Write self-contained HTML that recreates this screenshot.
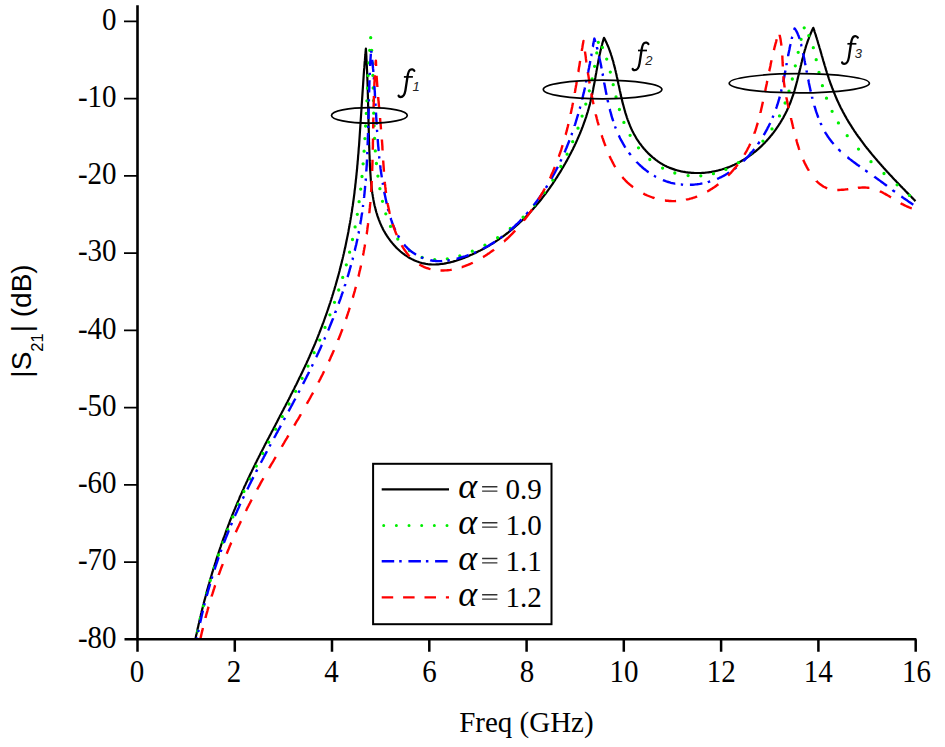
<!DOCTYPE html><html><head><meta charset="utf-8"><style>html,body{margin:0;padding:0;background:#fff;}svg{display:block;}text{font-family:"Liberation Serif",serif;}.s{font-family:"Liberation Sans",sans-serif;}</style></head><body>
<svg width="945" height="747" viewBox="0 0 945 747">
<rect width="945" height="747" fill="#fff"/>
<defs><clipPath id="plotclip"><rect x="137" y="0" width="800" height="639.3"/></clipPath></defs>
<g clip-path="url(#plotclip)">
<path d="M195.4,639.2 195.7,637.7 196.0,636.3 196.3,634.8 196.7,633.3 197.0,631.8 197.3,630.4 197.6,628.9 198.0,627.4 198.3,626.0 198.6,624.5 199.0,623.0 199.3,621.6 199.6,620.1 200.0,618.6 200.3,617.2 200.7,615.7 201.0,614.2 201.4,612.8 201.7,611.3 202.1,609.8 202.5,608.4 202.8,606.9 203.2,605.5 203.6,604.0 203.9,602.5 204.3,601.1 204.7,599.6 205.1,598.2 205.5,596.7 205.9,595.3 206.2,593.8 206.6,592.4 207.0,590.9 207.4,589.4 207.8,588.0 208.2,586.5 208.6,585.1 209.1,583.6 209.5,582.2 209.9,580.8 210.3,579.3 210.7,577.9 211.2,576.4 211.6,575.0 212.0,573.5 212.4,572.1 212.9,570.6 213.3,569.2 213.8,567.8 214.2,566.3 214.7,564.9 215.1,563.5 215.6,562.0 216.0,560.6 216.5,559.2 216.9,557.7 217.4,556.3 217.9,554.9 218.4,553.4 218.8,552.0 219.3,550.6 219.8,549.2 220.3,547.7 220.8,546.3 221.2,544.9 221.7,543.5 222.2,542.0 222.7,540.6 223.2,539.2 223.7,537.8 224.3,536.4 224.8,535.0 225.3,533.6 225.8,532.1 226.3,530.7 226.8,529.3 227.4,527.9 227.9,526.5 228.4,525.1 229.0,523.7 229.5,522.3 230.0,520.9 230.6,519.5 231.1,518.1 231.7,516.7 232.2,515.3 232.8,513.9 233.4,512.5 233.9,511.1 234.5,509.7 235.1,508.4 235.6,507.0 236.2,505.6 236.8,504.2 237.4,502.8 238.0,501.4 238.6,500.1 239.2,498.7 239.7,497.3 240.3,495.9 241.0,494.5 241.6,493.2 242.2,491.8 242.8,490.4 243.4,489.1 244.0,487.7 244.6,486.3 245.3,485.0 245.9,483.6 246.5,482.2 247.2,480.9 247.8,479.5 248.4,478.2 249.1,476.8 249.7,475.5 250.4,474.1 251.0,472.8 251.7,471.4 252.3,470.1 253.0,468.7 253.6,467.4 254.3,466.0 255.0,464.7 255.6,463.3 256.3,462.0 257.0,460.6 257.6,459.3 258.3,458.0 259.0,456.6 259.7,455.3 260.3,453.9 261.0,452.6 261.7,451.3 262.4,449.9 263.1,448.6 263.8,447.2 264.4,445.9 265.1,444.6 265.8,443.2 266.5,441.9 267.2,440.6 267.9,439.2 268.6,437.9 269.3,436.6 270.0,435.2 270.7,433.9 271.4,432.6 272.1,431.2 272.8,429.9 273.5,428.6 274.2,427.2 274.9,425.9 275.6,424.6 276.3,423.2 277.0,421.9 277.7,420.6 278.3,419.2 279.0,417.9 279.7,416.6 280.4,415.2 281.1,413.9 281.8,412.6 282.5,411.2 283.2,409.9 283.9,408.5 284.6,407.2 285.3,405.9 286.0,404.5 286.7,403.2 287.4,401.9 288.1,400.5 288.8,399.2 289.5,397.8 290.2,396.5 290.8,395.1 291.5,393.8 292.2,392.5 292.9,391.1 293.6,389.8 294.3,388.4 294.9,387.1 295.6,385.7 296.3,384.4 297.0,383.0 297.6,381.7 298.3,380.3 298.9,379.0 299.6,377.6 300.3,376.3 300.9,374.9 301.6,373.6 302.2,372.2 302.9,370.8 303.5,369.5 304.2,368.1 304.8,366.8 305.4,365.4 306.1,364.0 306.7,362.7 307.3,361.3 308.0,359.9 308.6,358.5 309.2,357.2 309.8,355.8 310.4,354.4 311.0,353.0 311.6,351.7 312.2,350.3 312.8,348.9 313.4,347.5 314.0,346.1 314.6,344.7 315.2,343.4 315.7,342.0 316.3,340.6 316.9,339.2 317.4,337.8 318.0,336.4 318.5,335.0 319.1,333.6 319.6,332.2 320.2,330.8 320.7,329.4 321.3,328.0 321.8,326.6 322.3,325.2 322.8,323.8 323.4,322.4 323.9,321.0 324.4,319.5 324.9,318.1 325.4,316.7 325.9,315.3 326.4,313.9 326.9,312.5 327.4,311.0 327.9,309.6 328.4,308.2 328.8,306.8 329.3,305.4 329.8,303.9 330.3,302.5 330.7,301.1 331.2,299.6 331.6,298.2 332.1,296.8 332.5,295.3 333.0,293.9 333.4,292.5 333.8,291.0 334.3,289.6 334.7,288.2 335.1,286.7 335.6,285.3 336.0,283.8 336.4,282.4 336.8,280.9 337.2,279.5 337.6,278.1 338.0,276.6 338.4,275.2 338.8,273.7 339.2,272.3 339.6,270.8 339.9,269.3 340.3,267.9 340.7,266.4 341.0,265.0 341.4,263.5 341.8,262.1 342.1,260.6 342.5,259.1 342.8,257.7 343.2,256.2 343.5,254.8 343.9,253.3 344.2,251.8 344.5,250.4 344.8,248.9 345.2,247.4 345.5,246.0 345.8,244.5 346.1,243.0 346.4,241.5 346.7,240.1 347.0,238.6 347.3,237.1 347.6,235.7 347.9,234.2 348.2,232.7 348.5,231.2 348.7,229.7 349.0,228.3 349.3,226.8 349.5,225.3 349.8,223.8 350.1,222.4 350.3,220.9 350.6,219.4 350.8,217.9 351.1,216.4 351.3,214.9 351.5,213.4 351.8,212.0 352.0,210.5 352.2,209.0 352.4,207.5 352.7,206.0 352.9,204.5 353.1,203.0 353.3,201.5 353.5,200.1 353.7,198.6 353.9,197.1 354.1,195.6 354.3,194.1 354.5,192.6 354.6,191.1 354.8,189.6 355.0,188.1 355.2,186.6 355.3,185.1 355.5,183.6 355.7,182.1 355.8,180.6 356.0,179.1 356.2,177.6 356.3,176.1 356.5,174.6 356.6,173.1 356.8,171.6 356.9,170.1 357.1,168.6 357.2,167.1 357.3,165.6 357.5,164.1 357.6,162.6 357.7,161.1 357.9,159.6 358.0,158.1 358.1,156.6 358.2,155.1 358.4,153.6 358.5,152.1 358.6,150.6 358.7,149.1 358.8,147.6 359.0,146.1 359.1,144.6 359.2,143.1 359.3,141.6 359.4,140.1 359.5,138.6 359.6,137.1 359.7,135.6 359.8,134.0 359.9,132.5 360.0,131.0 360.1,129.5 360.2,128.0 360.3,126.5 360.4,125.0 360.5,123.5 360.6,122.0 360.7,120.5 360.8,119.0 360.9,117.5 361.0,116.0 361.1,114.5 361.2,113.0 361.3,111.5 361.4,110.0 361.5,108.5 361.6,107.0 361.7,105.4 361.8,103.9 361.9,102.4 362.0,100.9 362.1,99.4 362.2,97.9 362.3,96.4 362.4,94.9 362.5,93.4 362.6,91.9 362.7,90.4 362.8,88.9 362.9,87.4 363.0,85.9 363.1,84.4 363.2,82.9 363.3,81.4 363.4,79.9 363.5,78.4 363.6,76.9 363.7,75.4 363.8,73.9 363.9,72.4 364.0,70.9 364.1,69.4 364.3,67.9 364.4,66.4 364.5,64.9 364.6,63.4 364.7,61.9 364.9,60.4 365.0,58.9 365.1,57.5 365.2,56.0 365.4,54.5 365.5,53.0 365.6,51.5 365.8,50.0 365.9,48.5 366.0,50.1 366.1,51.6 366.2,53.1 366.3,54.7 366.4,56.2 366.4,57.8 366.5,59.3 366.6,60.8 366.7,62.3 366.7,63.9 366.8,65.4 366.9,66.9 366.9,68.4 367.0,69.9 367.1,71.4 367.1,72.9 367.2,74.5 367.3,76.0 367.3,77.5 367.4,79.0 367.4,80.4 367.5,81.9 367.5,83.4 367.6,84.9 367.6,86.4 367.7,87.9 367.7,89.4 367.8,90.9 367.8,92.4 367.8,93.8 367.9,95.3 367.9,96.8 368.0,98.3 368.0,99.8 368.0,101.2 368.1,102.7 368.1,104.2 368.1,105.7 368.2,107.1 368.2,108.6 368.3,110.1 368.3,111.6 368.3,113.0 368.4,114.5 368.4,116.0 368.4,117.5 368.5,119.0 368.5,120.4 368.5,121.9 368.6,123.4 368.6,124.9 368.6,126.4 368.7,127.8 368.7,129.3 368.8,130.8 368.8,132.3 368.8,133.8 368.9,135.3 368.9,136.8 369.0,138.3 369.0,139.7 369.0,141.2 369.1,142.7 369.1,144.2 369.2,145.7 369.2,147.2 369.3,148.8 369.3,150.3 369.4,151.8 369.4,153.3 369.5,154.8 369.6,156.3 369.6,157.8 369.7,159.4 369.7,160.9 369.8,162.4 369.9,164.0 369.9,165.5 370.0,167.0 370.1,168.6 370.2,170.1 370.3,171.7 370.4,173.2 370.5,174.7 370.6,176.3 370.7,177.8 370.8,179.4 370.9,180.9 371.1,182.5 371.2,184.0 371.4,185.5 371.6,187.1 371.7,188.6 371.9,190.1 372.1,191.6 372.3,193.2 372.6,194.7 372.8,196.2 373.1,197.7 373.3,199.2 373.6,200.7 373.9,202.2 374.2,203.7 374.5,205.2 374.9,206.7 375.3,208.1 375.6,209.6 376.0,211.0 376.4,212.5 376.9,213.9 377.3,215.4 377.8,216.8 378.3,218.2 378.8,219.6 379.4,221.0 379.9,222.4 380.5,223.8 381.1,225.1 381.7,226.5 382.4,227.8 383.0,229.2 383.7,230.5 384.5,231.8 385.2,233.1 386.0,234.4 386.8,235.7 387.6,236.9 388.5,238.2 389.4,239.4 390.3,240.6 391.2,241.8 392.1,242.9 393.1,244.1 394.1,245.2 395.1,246.3 396.1,247.4 397.2,248.5 398.3,249.5 399.4,250.5 400.5,251.5 401.6,252.4 402.8,253.3 404.0,254.2 405.1,255.1 406.4,255.9 407.6,256.7 408.8,257.5 410.1,258.2 411.4,258.9 412.7,259.6 414.0,260.2 415.3,260.8 416.6,261.3 418.0,261.8 419.3,262.3 420.7,262.7 422.1,263.1 423.5,263.4 424.9,263.7 426.3,264.0 427.8,264.2 429.2,264.3 430.7,264.4 432.1,264.5 433.6,264.5 435.1,264.5 436.6,264.4 438.1,264.3 439.6,264.2 441.1,264.0 442.6,263.8 444.1,263.6 445.6,263.3 447.1,263.0 448.6,262.7 450.1,262.4 451.6,262.0 453.1,261.6 454.6,261.1 456.1,260.7 457.5,260.2 459.0,259.7 460.5,259.2 462.0,258.7 463.4,258.1 464.9,257.6 466.3,257.0 467.8,256.4 469.2,255.8 470.6,255.1 472.1,254.5 473.5,253.8 474.9,253.2 476.3,252.5 477.6,251.8 479.0,251.1 480.4,250.4 481.7,249.7 483.1,249.0 484.4,248.2 485.7,247.5 487.1,246.7 488.4,246.0 489.7,245.2 491.0,244.4 492.2,243.7 493.5,242.9 494.8,242.1 496.0,241.2 497.3,240.4 498.5,239.6 499.7,238.7 500.9,237.9 502.2,237.0 503.4,236.2 504.5,235.3 505.7,234.4 506.9,233.5 508.1,232.6 509.2,231.7 510.4,230.8 511.5,229.8 512.7,228.9 513.8,227.9 514.9,227.0 516.0,226.0 517.2,225.0 518.3,224.0 519.3,223.0 520.4,222.0 521.5,221.0 522.6,220.0 523.6,218.9 524.7,217.9 525.7,216.8 526.8,215.8 527.8,214.7 528.9,213.6 529.9,212.5 530.9,211.4 531.9,210.3 532.9,209.2 533.9,208.1 534.9,206.9 535.9,205.8 536.8,204.6 537.8,203.5 538.8,202.3 539.7,201.2 540.7,200.0 541.6,198.8 542.5,197.6 543.5,196.4 544.4,195.2 545.3,194.0 546.2,192.8 547.1,191.6 548.0,190.3 548.9,189.1 549.8,187.9 550.6,186.6 551.5,185.4 552.4,184.1 553.2,182.8 554.0,181.6 554.9,180.3 555.7,179.0 556.5,177.8 557.4,176.5 558.2,175.2 559.0,173.9 559.8,172.6 560.6,171.3 561.4,170.0 562.1,168.7 562.9,167.4 563.7,166.1 564.4,164.8 565.2,163.5 565.9,162.2 566.7,160.9 567.4,159.5 568.1,158.2 568.8,156.9 569.5,155.6 570.2,154.2 570.9,152.9 571.6,151.6 572.3,150.2 573.0,148.9 573.6,147.5 574.3,146.2 574.9,144.8 575.6,143.5 576.2,142.1 576.8,140.7 577.4,139.4 578.0,138.0 578.6,136.6 579.2,135.2 579.8,133.9 580.4,132.5 580.9,131.1 581.5,129.7 582.0,128.3 582.6,126.9 583.1,125.5 583.6,124.1 584.1,122.7 584.6,121.3 585.1,119.9 585.6,118.5 586.1,117.1 586.5,115.6 587.0,114.2 587.4,112.8 587.9,111.3 588.3,109.9 588.7,108.5 589.1,107.0 589.5,105.6 589.9,104.1 590.2,102.7 590.6,101.2 590.9,99.7 591.3,98.3 591.6,96.8 591.9,95.3 592.3,93.9 592.6,92.4 592.9,90.9 593.2,89.4 593.4,87.9 593.7,86.5 594.0,85.0 594.3,83.5 594.6,82.0 594.8,80.5 595.1,79.0 595.4,77.5 595.6,76.0 595.9,74.5 596.2,73.0 596.4,71.6 596.7,70.1 597.0,68.6 597.2,67.1 597.5,65.6 597.8,64.1 598.1,62.6 598.3,61.1 598.6,59.7 598.9,58.2 599.2,56.7 599.5,55.2 599.9,53.8 600.2,52.3 600.5,50.8 600.9,49.4 601.2,47.9 601.6,46.4 602.0,45.0 602.3,43.5 602.7,42.1 603.1,40.7 603.6,39.2 604.0,37.8 604.7,39.1 605.3,40.3 605.9,41.6 606.6,42.9 607.1,44.2 607.7,45.5 608.3,46.9 608.8,48.2 609.3,49.6 609.8,51.0 610.3,52.3 610.8,53.7 611.2,55.1 611.7,56.5 612.1,57.9 612.5,59.4 613.0,60.8 613.4,62.2 613.7,63.7 614.1,65.1 614.5,66.6 614.9,68.1 615.2,69.5 615.6,71.0 615.9,72.5 616.3,74.0 616.6,75.5 616.9,77.0 617.3,78.5 617.6,80.0 617.9,81.5 618.2,83.0 618.5,84.5 618.9,86.0 619.2,87.5 619.5,89.0 619.8,90.5 620.2,92.0 620.5,93.5 620.8,95.1 621.2,96.6 621.5,98.1 621.9,99.6 622.2,101.1 622.6,102.6 623.0,104.1 623.4,105.5 623.8,107.0 624.2,108.5 624.6,110.0 625.0,111.4 625.4,112.9 625.9,114.4 626.4,115.8 626.8,117.3 627.3,118.7 627.8,120.1 628.4,121.5 628.9,123.0 629.5,124.4 630.0,125.7 630.6,127.1 631.2,128.5 631.9,129.9 632.5,131.2 633.2,132.6 633.9,133.9 634.6,135.2 635.4,136.5 636.1,137.8 636.9,139.1 637.7,140.3 638.6,141.6 639.4,142.8 640.3,144.0 641.2,145.2 642.1,146.4 643.0,147.5 644.0,148.7 645.0,149.8 646.0,150.9 647.0,152.0 648.0,153.1 649.1,154.1 650.2,155.1 651.3,156.1 652.4,157.1 653.5,158.0 654.7,158.9 655.8,159.8 657.0,160.7 658.2,161.6 659.4,162.4 660.7,163.2 661.9,163.9 663.2,164.7 664.5,165.4 665.8,166.0 667.1,166.7 668.5,167.3 669.8,167.9 671.2,168.4 672.6,168.9 674.0,169.4 675.4,169.9 676.9,170.3 678.3,170.7 679.7,171.0 681.2,171.4 682.7,171.7 684.2,171.9 685.6,172.2 687.1,172.4 688.6,172.6 690.1,172.7 691.7,172.8 693.2,172.9 694.7,173.0 696.2,173.0 697.7,173.0 699.3,173.0 700.8,173.0 702.3,172.9 703.8,172.8 705.4,172.7 706.9,172.5 708.4,172.3 709.9,172.1 711.4,171.9 712.9,171.6 714.4,171.3 715.9,171.0 717.4,170.7 718.8,170.3 720.3,169.9 721.7,169.5 723.2,169.0 724.6,168.6 726.0,168.1 727.5,167.6 728.9,167.1 730.3,166.5 731.6,165.9 733.0,165.3 734.4,164.7 735.7,164.1 737.1,163.4 738.4,162.7 739.7,162.0 741.0,161.3 742.3,160.5 743.6,159.8 744.9,159.0 746.1,158.2 747.4,157.4 748.6,156.5 749.8,155.7 751.0,154.8 752.2,153.9 753.4,153.0 754.6,152.0 755.8,151.1 756.9,150.1 758.1,149.1 759.2,148.1 760.3,147.1 761.4,146.1 762.5,145.0 763.5,144.0 764.6,142.9 765.6,141.8 766.7,140.7 767.7,139.6 768.7,138.4 769.7,137.3 770.6,136.1 771.6,135.0 772.5,133.8 773.5,132.6 774.4,131.4 775.3,130.2 776.2,128.9 777.0,127.7 777.9,126.4 778.7,125.2 779.5,123.9 780.4,122.6 781.1,121.3 781.9,120.0 782.7,118.7 783.4,117.4 784.1,116.0 784.9,114.7 785.5,113.4 786.2,112.0 786.9,110.7 787.5,109.3 788.1,107.9 788.8,106.5 789.3,105.1 789.9,103.7 790.5,102.3 791.0,100.9 791.5,99.5 792.0,98.1 792.5,96.7 793.0,95.3 793.5,93.8 793.9,92.4 794.4,91.0 794.8,89.5 795.2,88.1 795.6,86.6 796.0,85.2 796.4,83.7 796.8,82.3 797.2,80.8 797.5,79.4 797.9,77.9 798.2,76.5 798.6,75.0 799.0,73.5 799.3,72.1 799.7,70.6 800.0,69.1 800.4,67.7 800.7,66.2 801.1,64.8 801.4,63.3 801.8,61.8 802.1,60.4 802.5,58.9 802.9,57.5 803.3,56.0 803.6,54.6 804.0,53.1 804.4,51.7 804.8,50.2 805.3,48.8 805.7,47.4 806.1,45.9 806.6,44.5 807.1,43.1 807.6,41.7 808.0,40.3 808.6,38.8 809.1,37.4 809.6,36.0 810.2,34.7 810.8,33.3 811.4,31.9 812.0,30.5 812.6,29.2 813.3,27.8 813.8,29.2 814.3,30.6 814.7,32.1 815.2,33.5 815.7,34.9 816.1,36.4 816.6,37.8 817.0,39.3 817.5,40.7 817.9,42.2 818.3,43.6 818.8,45.1 819.2,46.5 819.6,48.0 820.1,49.5 820.5,50.9 820.9,52.4 821.3,53.8 821.7,55.3 822.2,56.8 822.6,58.2 823.0,59.7 823.4,61.1 823.9,62.6 824.3,64.1 824.7,65.5 825.2,67.0 825.6,68.4 826.0,69.9 826.5,71.3 826.9,72.8 827.4,74.2 827.9,75.7 828.4,77.1 828.8,78.5 829.3,80.0 829.8,81.4 830.3,82.8 830.8,84.3 831.4,85.7 831.9,87.1 832.4,88.5 833.0,89.9 833.5,91.3 834.1,92.7 834.7,94.1 835.2,95.5 835.8,96.9 836.4,98.3 837.0,99.7 837.6,101.1 838.3,102.4 838.9,103.8 839.6,105.2 840.2,106.5 840.9,107.9 841.6,109.2 842.3,110.5 843.0,111.9 843.7,113.2 844.4,114.5 845.1,115.9 845.9,117.2 846.6,118.5 847.4,119.8 848.1,121.1 848.9,122.4 849.7,123.7 850.5,124.9 851.3,126.2 852.1,127.5 853.0,128.8 853.8,130.0 854.6,131.3 855.5,132.5 856.3,133.8 857.2,135.0 858.1,136.3 859.0,137.5 859.9,138.7 860.8,140.0 861.7,141.2 862.6,142.4 863.5,143.6 864.4,144.8 865.3,146.1 866.3,147.3 867.2,148.5 868.2,149.6 869.1,150.8 870.1,152.0 871.1,153.2 872.0,154.4 873.0,155.6 874.0,156.7 875.0,157.9 876.0,159.1 877.0,160.2 878.0,161.4 879.0,162.5 880.0,163.7 881.0,164.8 882.0,166.0 883.0,167.1 884.0,168.3 885.1,169.4 886.1,170.5 887.1,171.7 888.2,172.8 889.2,173.9 890.2,175.0 891.3,176.1 892.3,177.2 893.4,178.4 894.4,179.5 895.5,180.6 896.5,181.7 897.6,182.8 898.6,183.9 899.7,185.0 900.7,186.1 901.8,187.1 902.8,188.2 903.9,189.3 905.0,190.4 906.0,191.5 907.1,192.6 908.1,193.6 909.2,194.7 910.2,195.8 911.3,196.8 912.3,197.9 913.4,199.0 914.4,200.0 915.5,201.1" stroke="#000" stroke-width="2.2" fill="none" stroke-linejoin="round"/>
<path d="M197.6,631.2h0.01M200.3,618.5h0.01M203.4,605.8h0.01M206.7,593.1h0.01M210.3,580.4h0.01M214.2,567.7h0.01M218.4,555.0h0.01M222.9,542.3h0.01M227.7,529.6h0.01M232.8,516.9h0.01M238.2,504.2h0.01M243.9,491.5h0.01M250.0,478.8h0.01M256.3,466.1h0.01M262.8,453.4h0.01M268.7,442.2h0.01M275.6,429.2h0.01M282.3,416.6h0.01M289.0,404.0h0.01M295.6,391.3h0.01M302.1,378.3h0.01M308.0,366.1h0.01M314.1,352.7h0.01M319.7,340.1h0.01M325.0,327.4h0.01M329.9,314.8h0.01M334.5,302.3h0.01M338.7,290.0h0.01M342.7,277.4h0.01M346.3,264.8h0.01M349.6,252.2h0.01M352.5,239.5h0.01M355.1,226.9h0.01M357.3,214.3h0.01M359.1,201.7h0.01M360.7,189.1h0.01M362.0,176.5h0.01M363.1,163.8h0.01M364.1,151.2h0.01M364.9,138.6h0.01M365.6,126.0h0.01M366.3,113.4h0.01M366.9,100.8h0.01M367.5,88.2h0.01M368.1,75.5h0.01M368.9,62.9h0.01M369.7,50.3h0.01M370.7,37.7h0.01M371.7,50.3h0.01M372.4,62.9h0.01M372.9,75.4h0.01M373.2,88.0h0.01M373.5,100.6h0.01M373.7,113.2h0.01M374.1,125.8h0.01M374.6,138.4h0.01M375.3,150.9h0.01M376.4,163.5h0.01M377.9,176.1h0.01M379.9,188.7h0.01M382.5,201.3h0.01M385.8,213.8h0.01M390.5,226.4h0.01M397.8,239.0h0.01M409.5,250.7h0.01M422.1,257.4h0.01M434.7,259.6h0.01M447.3,258.8h0.01M459.8,255.8h0.01M472.3,251.2h0.01M484.9,245.2h0.01M497.6,237.7h0.01M510.3,228.5h0.01M523.1,217.2h0.01M534.6,205.0h0.01M544.3,192.7h0.01M552.8,180.2h0.01M560.8,166.5h0.01M567.1,154.2h0.01M572.7,141.7h0.01M578.0,128.2h0.01M582.1,116.1h0.01M585.8,104.1h0.01M589.3,90.8h0.01M592.1,78.9h0.01M594.6,66.3h0.01M596.8,52.9h0.01M598.3,42.3h0.01M602.4,47.4h0.01M606.7,59.1h0.01M610.3,72.1h0.01M613.2,84.7h0.01M616.0,96.9h0.01M619.4,109.5h0.01M623.9,122.4h0.01M630.1,135.3h0.01M638.5,147.8h0.01M649.8,159.5h0.01M662.6,168.1h0.01M674.8,173.0h0.01M688.1,175.6h0.01M700.8,175.8h0.01M713.4,173.7h0.01M725.9,169.4h0.01M738.4,162.7h0.01M750.9,153.2h0.01M762.9,141.1h0.01M772.0,128.9h0.01M779.5,115.9h0.01M785.1,103.0h0.01M789.0,91.1h0.01M792.3,79.0h0.01M795.3,65.8h0.01M798.2,52.3h0.01M801.1,39.3h0.01M804.2,27.8h0.01M808.8,35.7h0.01M813.3,47.7h0.01M816.2,59.7h0.01M819.0,72.4h0.01M822.4,85.7h0.01M826.5,98.2h0.01M832.1,111.3h0.01M838.4,122.9h0.01M847.2,135.7h0.01M858.5,149.1h0.01M871.0,161.7h0.01M884.0,173.5h0.01M897.1,184.8h0.01M909.4,195.4h0.01" stroke="#00ee00" stroke-width="3.3" stroke-linecap="round" fill="none"/>
<path d="M196.8,639.2 196.8,639.0 197.1,637.6 197.2,637.4 M198.2,632.1 198.2,631.8 198.5,630.4 198.6,629.8 M200.1,622.9 200.2,622.6 200.5,621.3 200.8,619.9 201.1,618.5 201.4,617.2 201.7,615.8 202.0,614.4 202.3,613.1 202.7,611.7 202.9,610.6 M204.2,605.3 204.3,605.1 204.6,603.7 204.8,603.1 M206.7,596.1 206.7,595.8 207.1,594.5 207.5,593.1 207.8,591.8 208.2,590.4 208.6,589.1 209.0,587.7 209.4,586.4 209.8,585.0 210.1,583.9 M211.7,578.6 211.8,578.3 212.2,577.0 212.4,576.3 M214.6,569.4 214.7,569.2 215.1,567.9 215.5,566.5 216.0,565.2 216.4,563.9 216.9,562.6 217.3,561.2 217.8,559.9 218.2,558.6 218.7,557.3 M220.6,552.0 220.6,551.8 221.1,550.5 221.4,549.6 M223.9,542.8 224.0,542.6 224.5,541.3 225.0,540.0 225.5,538.7 226.0,537.4 226.6,536.1 227.1,534.8 227.6,533.5 228.1,532.2 228.6,530.9 228.8,530.4 M230.9,525.3 231.0,525.1 231.6,523.8 231.9,522.9 M234.9,516.0 235.0,515.8 235.5,514.6 236.1,513.3 236.7,512.0 237.2,510.7 237.8,509.4 238.4,508.2 239.0,506.9 239.5,505.6 240.1,504.3 240.4,503.7 M242.8,498.6 242.9,498.4 243.5,497.2 243.9,496.3 M247.3,489.4 247.4,489.2 248.0,487.9 248.6,486.7 249.2,485.4 249.8,484.2 250.5,482.9 251.1,481.6 251.7,480.4 252.4,479.1 253.0,477.9 253.4,477.1 M256.1,471.9 256.2,471.6 256.8,470.4 257.3,469.6 M260.8,462.7 260.9,462.5 261.6,461.3 262.3,460.0 262.9,458.8 263.6,457.6 264.2,456.3 264.9,455.1 265.6,453.8 266.2,452.6 266.9,451.4 267.0,451.2 M269.5,446.4 269.6,446.2 270.3,445.0 270.6,444.3 M274.1,438.0 274.2,437.8 274.9,436.5 275.6,435.3 276.2,434.0 276.9,432.8 277.6,431.6 278.2,430.3 278.9,429.1 279.6,427.9 280.3,426.6 280.8,425.6 M283.8,420.0 283.9,419.8 284.6,418.6 285.1,417.8 M288.5,411.4 288.6,411.2 289.3,409.9 290.0,408.7 290.6,407.5 291.3,406.2 292.0,405.0 292.6,403.7 293.3,402.5 293.9,401.3 294.6,400.0 295.3,398.8 295.4,398.6 M298.4,392.8 298.5,392.6 299.2,391.3 299.6,390.5 M303.0,384.0 303.1,383.8 303.7,382.6 304.4,381.3 305.0,380.1 305.6,378.8 306.3,377.6 306.9,376.3 307.5,375.1 308.2,373.8 308.8,372.6 309.1,371.9 M311.8,366.5 311.9,366.3 312.5,365.0 312.9,364.2 M316.2,357.2 316.3,357.0 316.9,355.7 317.5,354.4 318.1,353.2 318.7,351.9 319.3,350.6 319.9,349.4 320.5,348.1 321.0,346.8 321.6,345.5 321.9,344.9 M324.3,339.5 324.4,339.3 324.9,338.0 325.2,337.4 M328.1,330.5 328.2,330.3 328.8,329.0 329.3,327.7 329.8,326.4 330.4,325.1 330.9,323.8 331.4,322.5 331.9,321.2 332.4,320.0 333.0,318.7 333.1,318.2 M335.2,313.0 335.2,312.8 335.7,311.5 336.0,310.8 M338.6,303.8 338.7,303.6 339.1,302.3 339.6,301.0 340.1,299.7 340.6,298.4 341.0,297.0 341.5,295.7 341.9,294.4 342.4,293.1 342.8,291.8 342.9,291.5 M344.7,286.2 344.7,286.0 345.2,284.7 345.4,284.0 M347.5,277.2 347.6,276.9 348.0,275.6 348.4,274.3 348.8,272.9 349.2,271.6 349.6,270.2 349.9,268.9 350.3,267.6 350.7,266.2 351.0,265.1 M352.4,259.9 352.5,259.7 352.8,258.4 353.0,257.7 M354.7,250.7 354.8,250.5 355.1,249.1 355.4,247.8 355.7,246.4 356.1,245.1 356.4,243.7 356.7,242.3 357.0,241.0 357.3,239.6 357.5,238.7 M358.5,233.5 358.6,233.2 358.8,231.9 359.0,231.2 M360.2,224.3 360.3,224.1 360.5,222.7 360.7,221.3 361.0,220.0 361.2,218.6 361.4,217.2 361.6,215.8 361.8,214.4 362.1,213.0 362.2,212.4 M362.9,207.0 362.9,206.8 363.1,205.4 363.2,205.0 M364.0,198.0 364.0,197.8 364.2,196.4 364.3,195.0 364.5,193.6 364.6,192.2 364.7,190.8 364.9,189.4 365.0,188.0 365.1,186.6 365.2,185.9 M365.6,180.7 365.7,180.5 365.8,179.1 365.8,178.4 M366.3,171.6 366.3,171.4 366.4,170.0 366.5,168.6 366.6,167.2 366.7,165.8 366.8,164.3 366.8,162.9 366.9,161.5 367.0,160.1 367.0,159.4 M367.3,154.2 367.3,154.0 367.3,152.6 367.4,152.1 M367.6,145.3 367.6,145.1 367.7,143.7 367.7,142.2 367.8,140.8 367.8,139.4 367.9,138.0 367.9,136.6 368.0,135.2 368.0,133.8 368.0,133.1 M368.2,127.9 368.2,127.6 368.2,126.2 368.3,125.8 M368.4,118.9 368.4,118.7 368.5,117.3 368.5,115.9 368.5,114.5 368.6,113.1 368.6,111.7 368.7,110.2 368.7,108.8 368.7,107.4 368.7,106.7 M368.9,101.6 368.9,101.3 368.9,99.9 368.9,99.2 M369.1,92.4 369.1,92.2 369.2,90.8 369.2,89.4 369.3,88.0 369.3,86.6 369.3,85.2 369.4,83.8 369.4,82.4 369.5,81.0 369.5,80.3 M369.7,75.1 369.7,74.9 369.8,73.5 369.8,72.8 M370.1,66.1 370.1,65.9 370.2,64.5 370.3,63.1 370.3,61.7 370.4,60.3 370.5,58.9 370.6,57.5 370.7,56.1 370.8,54.8 370.8,53.8 M371.2,50.7 371.2,50.9 371.4,52.3 371.5,52.8 M372.2,59.7 372.2,59.9 372.4,61.3 372.5,62.7 372.7,64.1 372.8,65.5 372.9,67.0 373.0,68.4 373.2,69.8 373.3,71.2 373.3,71.9 M373.7,77.0 373.8,77.3 373.9,78.7 373.9,79.4 M374.4,86.1 374.4,86.3 374.5,87.7 374.6,89.1 374.7,90.5 374.8,91.9 374.9,93.3 374.9,94.7 375.0,96.1 375.1,97.5 375.1,98.2 M375.5,103.5 375.5,103.7 375.5,105.1 375.6,105.8 M376.0,112.5 376.0,112.7 376.1,114.1 376.1,115.4 376.2,116.8 376.3,118.2 376.4,119.6 376.5,121.0 376.6,122.4 376.6,123.7 376.7,124.7 M377.0,129.7 377.0,129.9 377.1,131.3 377.2,132.0 M377.7,138.9 377.7,139.1 377.8,140.5 377.9,141.9 378.0,143.3 378.1,144.7 378.2,146.1 378.4,147.4 378.5,148.8 378.6,150.2 378.7,151.1 M379.2,156.2 379.2,156.4 379.3,157.8 379.4,158.5 M380.2,165.2 380.2,165.5 380.4,166.9 380.5,168.2 380.7,169.6 380.9,171.0 381.1,172.4 381.3,173.8 381.5,175.2 381.7,176.6 381.8,177.3 M382.6,182.7 382.7,182.9 382.9,184.3 383.0,184.8 M384.2,191.6 384.3,191.8 384.5,193.3 384.8,194.7 385.1,196.1 385.4,197.5 385.7,198.9 386.0,200.3 386.3,201.8 386.6,203.2 386.8,203.9 M388.0,208.9 388.0,209.1 388.4,210.5 388.6,211.2 M390.6,218.0 390.7,218.2 391.1,219.6 391.6,220.9 392.0,222.3 392.5,223.6 393.0,225.0 393.6,226.3 394.1,227.6 394.7,228.9 395.3,230.2 M397.9,235.3 398.0,235.5 398.7,236.7 399.3,237.7 M404.1,244.5 404.3,244.7 405.1,245.7 406.0,246.7 407.0,247.6 407.9,248.6 408.9,249.5 409.9,250.4 411.0,251.2 412.0,252.1 413.1,252.8 414.3,253.6 415.4,254.3 416.0,254.7 M421.0,257.3 421.2,257.4 422.5,257.9 423.3,258.3 M430.2,260.2 430.4,260.3 431.8,260.5 433.1,260.7 434.5,260.9 435.9,261.0 437.3,261.1 438.7,261.1 440.1,261.1 441.5,261.1 442.2,261.0 M447.4,260.5 447.6,260.5 449.0,260.3 449.8,260.2 M456.5,258.7 456.8,258.7 458.2,258.3 459.5,257.9 460.9,257.5 462.3,257.1 463.6,256.7 465.0,256.3 466.3,255.8 467.6,255.4 468.7,255.0 M474.0,252.9 474.2,252.8 475.4,252.3 476.1,252.0 M483.0,248.7 483.2,248.6 484.4,248.0 485.6,247.3 486.9,246.6 488.1,246.0 489.3,245.3 490.4,244.6 491.6,243.8 492.8,243.1 494.0,242.4 495.1,241.6 M500.2,238.1 500.4,237.9 501.5,237.1 502.5,236.4 M509.3,230.9 509.5,230.8 510.5,229.9 511.6,229.0 512.6,228.0 513.6,227.1 514.7,226.2 515.7,225.2 516.7,224.2 517.7,223.3 518.7,222.3 519.7,221.3 520.6,220.3 521.5,219.5 M526.2,214.3 526.4,214.1 527.3,213.1 528.2,212.0 M533.7,205.3 533.8,205.1 534.7,204.0 535.6,202.8 536.4,201.7 537.2,200.6 538.1,199.4 538.9,198.3 539.7,197.1 540.5,196.0 541.4,194.8 542.2,193.6 542.5,193.0 M545.9,187.9 546.0,187.7 546.8,186.5 547.3,185.6 M551.3,178.9 551.4,178.7 552.1,177.5 552.8,176.2 553.5,175.0 554.2,173.7 554.9,172.5 555.5,171.2 556.2,169.9 556.8,168.7 557.5,167.4 557.8,166.8 M560.4,161.5 560.5,161.2 561.1,160.0 561.4,159.3 M564.5,152.4 564.6,152.2 565.2,150.9 565.7,149.6 566.3,148.3 566.8,147.0 567.3,145.7 567.8,144.4 568.4,143.1 568.9,141.8 569.4,140.5 569.5,140.3 M571.4,135.1 571.5,134.9 571.9,133.6 572.2,132.9 M574.5,126.1 574.5,125.9 575.0,124.6 575.4,123.3 575.8,122.0 576.2,120.6 576.6,119.3 577.0,118.0 577.4,116.7 577.8,115.4 578.2,114.0 M579.7,108.7 579.8,108.5 580.1,107.2 580.3,106.5 M582.1,99.6 582.1,99.4 582.5,98.1 582.8,96.7 583.1,95.4 583.4,94.1 583.8,92.7 584.1,91.4 584.4,90.0 584.7,88.7 584.9,87.5 M586.1,82.4 586.1,82.1 586.4,80.8 586.6,80.1 M587.9,73.3 588.0,73.0 588.3,71.7 588.5,70.3 588.8,68.9 589.1,67.5 589.3,66.2 589.6,64.8 589.9,63.4 590.1,62.0 590.3,61.1 M591.2,56.0 591.3,55.8 591.5,54.4 591.6,53.7 M592.8,46.9 592.9,46.7 593.1,45.2 593.4,43.8 593.6,42.4 593.9,41.0 594.1,39.6 594.4,38.6 594.8,39.9 595.2,41.2 595.4,42.1 M596.9,47.1 596.9,47.3 597.3,48.6 597.5,49.5 M599.1,56.3 599.1,56.5 599.4,57.9 599.7,59.2 600.0,60.6 600.3,62.0 600.6,63.3 600.9,64.7 601.1,66.1 601.4,67.5 601.6,68.4 M602.5,73.5 602.6,73.8 602.8,75.2 603.0,75.9 M604.2,82.6 604.2,82.9 604.5,84.3 604.8,85.7 605.0,87.1 605.3,88.5 605.6,89.9 605.8,91.3 606.1,92.7 606.4,94.1 606.5,94.8 M607.6,100.0 607.6,100.2 608.0,101.6 608.1,102.3 M609.7,109.0 609.8,109.2 610.1,110.6 610.5,112.0 610.9,113.3 611.2,114.7 611.6,116.1 612.0,117.4 612.4,118.8 612.9,120.1 613.2,121.2 M615.0,126.3 615.1,126.6 615.6,127.9 615.8,128.5 M618.8,135.4 618.9,135.6 619.5,136.9 620.1,138.2 620.7,139.4 621.4,140.7 622.1,141.9 622.8,143.1 623.5,144.4 624.2,145.6 624.9,146.8 625.4,147.6 M628.9,152.6 629.0,152.8 629.9,153.9 630.7,155.1 M636.6,161.8 636.7,162.0 637.7,163.0 638.7,164.0 639.7,165.0 640.7,165.9 641.8,166.8 642.8,167.8 643.9,168.7 645.0,169.5 646.1,170.4 647.2,171.2 648.3,172.1 648.7,172.3 M653.9,175.7 654.1,175.8 655.3,176.5 656.1,176.9 M662.9,180.1 663.1,180.2 664.4,180.7 665.7,181.2 667.0,181.6 668.3,182.0 669.7,182.4 671.0,182.8 672.3,183.1 673.7,183.4 675.1,183.7 675.3,183.7 M680.8,184.5 681.0,184.5 682.4,184.6 683.1,184.7 M689.9,184.8 690.1,184.8 691.5,184.8 692.9,184.7 694.3,184.6 695.7,184.4 697.1,184.3 698.5,184.1 699.9,183.9 701.3,183.6 702.4,183.4 M707.8,182.2 708.0,182.1 709.4,181.7 710.2,181.5 M717.1,178.9 717.3,178.8 718.6,178.3 719.8,177.7 721.1,177.1 722.3,176.5 723.5,175.9 724.7,175.2 725.9,174.5 727.1,173.8 728.2,173.1 729.2,172.5 M734.3,169.0 734.5,168.9 735.6,168.0 736.5,167.3 M743.3,161.4 743.4,161.2 744.5,160.2 745.4,159.2 746.4,158.2 747.4,157.2 748.3,156.2 749.3,155.1 750.2,154.1 751.1,153.0 752.1,151.9 753.0,150.8 753.8,149.7 754.3,149.1 M758.0,144.2 758.1,144.0 758.9,142.8 759.6,141.8 M763.8,135.1 763.9,134.9 764.6,133.7 765.3,132.4 766.0,131.2 766.7,129.9 767.4,128.6 768.0,127.3 768.7,126.1 769.3,124.8 770.0,123.5 770.2,123.0 M772.5,117.8 772.6,117.6 773.1,116.3 773.4,115.6 M776.0,108.7 776.1,108.5 776.6,107.1 777.0,105.8 777.5,104.5 777.9,103.1 778.3,101.8 778.7,100.4 779.1,99.1 779.5,97.7 779.8,96.6 M781.0,91.7 781.1,91.4 781.4,90.1 781.6,89.4 M783.1,82.4 783.2,82.2 783.4,80.8 783.7,79.4 784.0,78.1 784.3,76.7 784.5,75.4 784.8,74.0 785.0,72.6 785.3,71.3 785.5,70.4 M786.4,65.3 786.4,65.1 786.7,63.8 786.8,63.1 M788.1,56.2 788.1,56.0 788.4,54.6 788.6,53.3 788.9,51.9 789.2,50.5 789.5,49.2 789.7,47.8 790.0,46.4 790.3,45.1 790.5,44.1 M791.8,38.9 791.8,38.7 792.1,37.3 792.3,36.8 M794.1,30.0 794.2,29.8 794.6,28.4 795.4,29.5 796.1,30.7 796.8,31.9 797.4,33.1 797.9,34.4 798.5,35.7 798.9,36.9 799.4,38.2 799.6,38.9 M801.0,44.0 801.1,44.2 801.4,45.6 801.6,46.3 M803.1,53.2 803.1,53.5 803.4,54.8 803.7,56.2 804.0,57.5 804.3,58.9 804.5,60.2 804.8,61.6 805.0,62.9 805.3,64.3 805.5,65.2 M806.5,70.4 806.5,70.6 806.8,72.0 806.9,72.7 M808.2,79.5 808.3,79.8 808.6,81.1 808.8,82.5 809.1,83.9 809.4,85.3 809.7,86.7 810.0,88.1 810.3,89.5 810.6,90.9 810.8,91.6 M812.0,96.7 812.0,96.9 812.4,98.3 812.5,98.8 M814.4,105.7 814.4,106.0 814.9,107.3 815.3,108.7 815.7,110.1 816.1,111.4 816.6,112.8 817.1,114.2 817.5,115.5 818.0,116.8 818.4,117.7 M820.5,122.9 820.6,123.2 821.2,124.4 821.5,125.1 M825.0,131.9 825.1,132.1 825.8,133.3 826.5,134.4 827.3,135.6 828.0,136.8 828.8,137.9 829.6,139.0 830.4,140.1 831.3,141.2 832.1,142.3 833.0,143.3 833.6,144.0 M838.4,149.2 838.6,149.4 839.6,150.3 840.6,151.3 840.8,151.4 M847.4,157.2 847.6,157.3 848.7,158.2 849.8,159.1 850.9,159.9 852.0,160.8 853.1,161.6 854.3,162.5 855.4,163.3 856.6,164.2 857.7,165.0 858.9,165.8 859.8,166.5 M865.2,170.3 865.4,170.4 866.6,171.2 867.6,171.9 M874.3,176.6 874.5,176.8 875.6,177.6 876.8,178.4 877.9,179.2 879.1,180.1 880.2,180.9 881.3,181.7 882.4,182.5 883.6,183.4 884.7,184.2 885.8,185.0 886.9,185.9 M892.5,190.0 892.7,190.2 893.8,191.0 895.0,191.8 M901.3,196.5 901.5,196.6 902.7,197.4 903.8,198.2 905.0,199.0 906.1,199.8 907.3,200.6 908.4,201.4 909.6,202.2 910.8,203.0 911.9,203.8 913.1,204.6 913.3,204.7" stroke="#0000ff" stroke-width="2.4" fill="none" stroke-linejoin="round"/>
<path d="M200.3,639.2 200.4,639.0 200.7,637.6 201.0,636.2 201.3,634.8 201.6,633.5 201.9,632.1 202.3,630.7 202.6,629.4 202.9,628.0 M205.5,618.0 205.5,617.8 205.9,616.4 206.2,615.0 206.6,613.7 207.0,612.3 207.4,611.0 207.7,609.6 208.1,608.3 208.5,606.9 208.6,606.7 M211.6,596.6 211.6,596.4 212.0,595.1 212.5,593.7 212.9,592.4 213.3,591.1 213.7,589.7 214.2,588.4 214.6,587.1 215.0,585.7 215.2,585.3 M218.7,575.1 218.7,574.9 219.2,573.6 219.7,572.3 220.1,571.0 220.6,569.7 221.1,568.3 221.6,567.0 222.1,565.7 222.6,564.4 222.7,564.0 M226.7,553.8 226.8,553.6 227.3,552.3 227.8,551.0 228.3,549.7 228.9,548.4 229.4,547.1 229.9,545.8 230.5,544.5 231.0,543.2 231.3,542.6 M235.8,532.3 235.9,532.1 236.4,530.8 237.0,529.6 237.6,528.3 238.2,527.0 238.8,525.8 239.4,524.5 240.0,523.2 240.6,521.9 241.0,521.1 M245.9,511.0 246.0,510.8 246.6,509.6 247.2,508.3 247.8,507.1 248.5,505.8 249.1,504.6 249.8,503.3 250.4,502.1 251.1,500.8 251.7,499.6 M257.1,489.5 257.2,489.3 257.9,488.1 258.6,486.8 259.3,485.6 260.0,484.4 260.6,483.1 261.3,481.9 262.0,480.7 262.7,479.5 263.4,478.2 M269.1,468.3 269.2,468.1 269.9,466.8 270.6,465.6 271.3,464.4 272.1,463.2 272.8,462.0 273.5,460.8 274.2,459.5 274.9,458.3 275.6,457.1 275.7,456.9 M281.7,446.8 281.8,446.6 282.6,445.4 283.3,444.2 284.0,443.0 284.7,441.7 285.4,440.5 286.1,439.3 286.9,438.1 287.6,436.9 288.3,435.7 288.4,435.5 M294.3,425.6 294.4,425.4 295.1,424.2 295.8,422.9 296.5,421.7 297.2,420.5 298.0,419.3 298.7,418.1 299.4,416.9 300.1,415.6 300.8,414.4 300.9,414.2 M306.8,403.8 306.9,403.6 307.6,402.4 308.3,401.2 309.0,400.0 309.7,398.7 310.4,397.5 311.0,396.3 311.7,395.0 312.4,393.8 313.1,392.6 M318.4,382.5 318.5,382.3 319.2,381.0 319.8,379.8 320.5,378.6 321.1,377.3 321.7,376.1 322.4,374.8 323.0,373.6 323.6,372.3 324.1,371.3 M328.9,361.4 329.0,361.2 329.6,359.9 330.2,358.7 330.7,357.4 331.3,356.1 331.9,354.9 332.5,353.6 333.0,352.3 333.6,351.0 333.9,350.2 M338.2,340.1 338.2,339.9 338.8,338.6 339.3,337.3 339.8,336.0 340.3,334.7 340.8,333.4 341.3,332.1 341.8,330.8 342.3,329.5 342.4,329.1 M346.0,319.0 346.1,318.8 346.6,317.5 347.0,316.1 347.5,314.8 347.9,313.5 348.3,312.2 348.8,310.8 349.2,309.5 349.6,308.2 349.8,307.7 M352.8,297.7 352.9,297.5 353.3,296.2 353.6,294.8 354.0,293.5 354.4,292.2 354.8,290.8 355.1,289.5 355.5,288.1 355.9,286.8 M358.4,276.6 358.5,276.4 358.8,275.0 359.1,273.7 359.4,272.3 359.7,271.0 360.1,269.6 360.4,268.2 360.7,266.9 361.0,265.5 M363.0,255.5 363.1,255.2 363.3,253.9 363.6,252.5 363.8,251.1 364.1,249.7 364.3,248.4 364.6,247.0 364.8,245.6 365.0,244.5 M366.6,234.3 366.7,234.1 366.9,232.7 367.1,231.3 367.3,229.9 367.4,228.5 367.6,227.2 367.8,225.8 368.0,224.4 368.1,223.2 M369.3,213.2 369.3,213.0 369.5,211.6 369.6,210.2 369.7,208.8 369.9,207.4 370.0,206.0 370.1,204.6 370.3,203.2 370.4,202.0 M371.1,192.0 371.1,191.8 371.2,190.4 371.3,189.0 371.4,187.6 371.5,186.2 371.5,184.8 371.6,183.3 371.7,181.9 371.8,180.8 M372.2,170.9 372.2,170.7 372.2,169.3 372.3,167.9 372.3,166.5 372.4,165.1 372.4,163.6 372.5,162.2 372.5,160.8 372.5,159.7 M372.8,149.8 372.8,149.6 372.8,148.1 372.9,146.7 372.9,145.3 372.9,143.9 372.9,142.5 373.0,141.1 373.0,139.7 373.0,138.5 M373.2,128.4 373.2,128.2 373.2,126.8 373.2,125.4 373.3,124.0 373.3,122.6 373.3,121.1 373.3,119.7 373.4,118.3 373.4,117.4 M373.6,107.3 373.6,107.1 373.6,105.7 373.7,104.3 373.7,102.9 373.7,101.5 373.8,100.1 373.8,98.7 373.9,97.3 373.9,96.1 M374.3,86.1 374.3,85.9 374.4,84.5 374.4,83.1 374.5,81.7 374.6,80.3 374.6,78.9 374.7,77.5 374.8,76.1 374.8,75.2 M375.5,65.0 375.5,64.7 375.6,63.4 375.7,62.0 375.8,60.6 375.9,60.6 376.0,62.0 376.0,63.4 376.1,64.8 376.1,66.0 M376.6,75.8 376.6,76.1 376.7,77.5 376.8,78.9 376.9,80.3 377.0,81.7 377.1,83.1 377.2,84.5 377.3,85.9 377.4,87.0 M378.2,97.0 378.2,97.3 378.3,98.7 378.4,100.1 378.6,101.4 378.7,102.8 378.8,104.2 378.9,105.6 379.1,107.0 379.2,108.2 M380.1,118.1 380.1,118.4 380.2,119.8 380.3,121.2 380.5,122.6 380.6,123.9 380.7,125.3 380.8,126.7 380.9,128.1 381.0,129.3 M381.9,139.5 381.9,139.8 382.0,141.2 382.1,142.5 382.2,143.9 382.3,145.3 382.4,146.7 382.4,148.1 382.5,149.5 382.6,150.5 M383.2,160.5 383.2,160.8 383.3,162.2 383.4,163.6 383.5,165.0 383.6,166.4 383.7,167.8 383.8,169.2 383.9,170.6 383.9,171.8 M384.8,181.8 384.8,182.0 384.9,183.4 385.1,184.8 385.2,186.2 385.4,187.6 385.5,189.0 385.7,190.4 385.9,191.8 386.0,193.0 M387.6,202.9 387.6,203.1 387.8,204.5 388.1,205.9 388.4,207.3 388.7,208.7 389.0,210.0 389.3,211.4 389.6,212.8 389.9,213.9 M392.6,223.9 392.7,224.2 393.2,225.5 393.6,226.9 394.1,228.2 394.6,229.6 395.1,230.9 395.6,232.3 396.1,233.6 396.7,234.9 396.7,235.2 M401.7,245.3 401.8,245.5 402.5,246.7 403.2,247.9 404.0,249.1 404.8,250.3 405.6,251.4 406.4,252.5 407.2,253.6 408.1,254.7 409.0,255.7 409.6,256.4 M419.3,264.6 419.5,264.7 420.7,265.3 421.9,265.9 423.1,266.5 424.3,267.1 425.6,267.6 426.8,268.0 428.1,268.4 429.4,268.8 430.5,269.1 M440.5,270.5 440.7,270.5 442.1,270.5 443.5,270.5 445.0,270.4 446.4,270.4 447.8,270.2 449.2,270.1 450.6,269.9 451.7,269.7 M461.7,267.2 461.9,267.2 463.2,266.7 464.6,266.2 465.9,265.7 467.2,265.2 468.5,264.7 469.8,264.1 471.1,263.5 472.4,262.9 472.8,262.7 M483.0,257.1 483.2,257.0 484.4,256.2 485.6,255.5 486.8,254.7 487.9,253.9 489.1,253.2 490.2,252.4 491.4,251.5 492.5,250.7 493.7,249.9 494.0,249.6 M504.0,241.5 504.2,241.4 505.2,240.4 506.2,239.5 507.3,238.5 508.3,237.6 509.3,236.6 510.3,235.6 511.3,234.7 512.3,233.7 513.2,232.7 514.2,231.7 515.1,230.6 M523.7,220.8 523.8,220.6 524.7,219.5 525.6,218.4 526.4,217.3 527.3,216.2 528.1,215.0 529.0,213.9 529.8,212.8 530.6,211.6 531.4,210.5 532.1,209.5 M538.6,199.5 538.7,199.3 539.4,198.1 540.1,196.9 540.8,195.7 541.5,194.4 542.2,193.2 542.9,192.0 543.6,190.7 544.3,189.5 544.8,188.5 M549.9,178.4 550.0,178.2 550.6,176.9 551.1,175.6 551.7,174.3 552.3,173.0 552.9,171.7 553.4,170.4 554.0,169.1 554.5,167.8 554.9,167.0 M558.8,156.7 558.9,156.5 559.3,155.1 559.8,153.8 560.3,152.5 560.7,151.2 561.2,149.9 561.6,148.5 562.0,147.2 562.4,145.9 562.6,145.2 M565.6,134.9 565.7,134.7 566.0,133.4 566.4,132.0 566.8,130.7 567.1,129.3 567.4,128.0 567.8,126.6 568.1,125.3 568.4,123.9 M570.7,114.0 570.7,113.7 571.0,112.4 571.3,111.0 571.6,109.6 571.9,108.3 572.2,106.9 572.4,105.5 572.7,104.2 573.0,102.8 M574.8,93.0 574.8,92.7 575.1,91.4 575.3,90.0 575.5,88.6 575.8,87.2 576.0,85.9 576.3,84.5 576.5,83.1 576.7,81.9 M578.3,72.0 578.4,71.8 578.6,70.4 578.8,69.0 579.0,67.6 579.3,66.3 579.5,64.9 579.7,63.5 579.9,62.1 580.1,60.9 M581.8,51.0 581.8,50.8 582.0,49.4 582.3,48.0 582.5,46.6 582.7,45.2 583.0,43.8 583.2,42.4 583.5,41.0 583.6,41.5 M585.0,51.5 585.0,51.8 585.2,53.2 585.4,54.5 585.6,55.9 585.8,57.3 585.9,58.7 586.1,60.1 586.3,61.5 586.5,62.4 M587.9,72.4 587.9,72.6 588.1,74.0 588.4,75.4 588.6,76.8 588.8,78.2 589.0,79.6 589.2,80.9 589.4,82.3 589.6,83.5 M591.3,93.3 591.4,93.6 591.6,94.9 591.9,96.3 592.2,97.7 592.4,99.1 592.7,100.4 593.0,101.8 593.3,103.2 593.5,104.3 M595.8,114.3 595.8,114.5 596.1,115.9 596.5,117.2 596.8,118.6 597.2,119.9 597.5,121.3 597.9,122.6 598.3,124.0 598.7,125.3 M601.6,135.2 601.7,135.4 602.2,136.8 602.6,138.1 603.1,139.4 603.5,140.8 604.0,142.1 604.5,143.4 605.0,144.8 605.5,146.1 M609.5,156.0 609.6,156.2 610.2,157.5 610.8,158.8 611.5,160.0 612.1,161.3 612.8,162.6 613.4,163.8 614.1,165.1 614.8,166.3 615.3,167.1 M622.3,177.0 622.5,177.2 623.4,178.3 624.4,179.3 625.3,180.3 626.3,181.3 627.3,182.3 628.4,183.3 629.4,184.2 630.5,185.1 631.6,186.0 632.7,186.9 633.1,187.2 M643.3,193.5 643.5,193.6 644.7,194.3 646.0,194.9 647.3,195.5 648.6,196.0 649.9,196.5 651.2,197.0 652.5,197.5 653.9,197.9 654.5,198.2 M664.9,200.5 665.2,200.5 666.5,200.7 667.9,200.8 669.3,201.0 670.7,201.0 672.0,201.1 673.4,201.1 674.8,201.1 676.1,201.0 M686.0,199.8 686.2,199.7 687.6,199.4 688.9,199.1 690.2,198.7 691.5,198.4 692.8,198.0 694.1,197.5 695.4,197.1 696.7,196.6 697.1,196.4 M707.2,191.6 707.4,191.5 708.6,190.8 709.8,190.1 711.0,189.3 712.2,188.6 713.4,187.8 714.6,187.0 715.7,186.2 716.9,185.3 718.0,184.5 718.4,184.2 M728.1,175.6 728.3,175.4 729.3,174.4 730.3,173.3 731.3,172.3 732.2,171.2 733.2,170.1 734.1,169.0 735.1,167.9 736.0,166.8 736.9,165.7 737.7,164.5 M744.5,154.7 744.6,154.5 745.3,153.2 746.0,152.0 746.7,150.8 747.4,149.5 748.0,148.3 748.7,147.0 749.3,145.8 749.9,144.5 750.3,143.7 M754.3,133.8 754.3,133.6 754.8,132.3 755.3,130.9 755.7,129.6 756.1,128.3 756.5,127.0 756.9,125.7 757.3,124.3 757.7,123.0 757.8,122.8 M760.4,112.9 760.4,112.7 760.8,111.3 761.1,110.0 761.4,108.6 761.7,107.3 762.0,105.9 762.3,104.5 762.6,103.2 762.9,101.8 M765.0,91.9 765.1,91.7 765.4,90.3 765.6,89.0 765.9,87.6 766.2,86.2 766.5,84.8 766.8,83.4 767.0,82.1 767.3,80.9 M769.2,71.2 769.3,71.0 769.6,69.6 769.9,68.2 770.2,66.9 770.5,65.5 770.7,64.1 771.0,62.7 771.3,61.3 771.6,60.2 M773.9,50.2 774.0,49.9 774.3,48.6 774.6,47.2 775.0,45.9 775.3,44.5 775.7,43.2 776.1,41.8 776.4,40.5 776.7,39.3 M779.6,34.7 779.6,34.9 779.9,36.3 780.2,37.7 780.5,39.0 780.7,40.4 780.9,41.8 781.1,43.2 781.3,44.6 781.4,45.7 M782.3,55.6 782.3,55.8 782.4,57.2 782.4,58.6 782.5,60.0 782.6,61.5 782.6,62.9 782.7,64.3 782.8,65.7 782.8,66.4 M783.4,76.3 783.4,76.5 783.5,77.9 783.6,79.3 783.8,80.7 783.9,82.1 784.1,83.5 784.3,84.9 784.5,86.3 784.6,87.5 M786.4,97.3 786.4,97.5 786.7,98.9 787.0,100.3 787.2,101.6 787.5,103.0 787.8,104.4 788.1,105.7 788.4,107.1 788.7,108.2 M791.0,118.0 791.0,118.3 791.3,119.6 791.7,121.0 792.0,122.4 792.3,123.8 792.6,125.1 792.9,126.5 793.3,127.9 793.5,129.0 M796.1,139.1 796.2,139.3 796.6,140.7 796.9,142.0 797.3,143.4 797.7,144.8 798.2,146.1 798.6,147.5 799.0,148.8 799.4,149.9 M803.3,159.8 803.4,160.0 803.9,161.3 804.5,162.6 805.2,163.9 805.8,165.2 806.5,166.4 807.1,167.7 807.8,168.9 808.6,170.2 808.9,170.8 M816.3,180.7 816.4,180.9 817.4,181.9 818.4,182.8 819.4,183.7 820.5,184.5 821.6,185.3 822.7,186.1 823.8,186.7 825.0,187.3 826.2,187.9 827.2,188.3 M837.3,190.0 837.5,190.0 838.9,190.0 840.3,189.9 841.7,189.8 843.1,189.7 844.5,189.6 845.9,189.4 847.3,189.3 848.3,189.1 M857.9,187.9 858.2,187.8 859.6,187.7 861.0,187.6 862.4,187.5 863.8,187.5 865.1,187.5 866.5,187.6 867.9,187.7 869.2,187.9 869.4,187.9 M879.8,191.2 880.0,191.3 881.3,191.9 882.6,192.5 883.8,193.2 885.1,193.9 886.3,194.6 887.5,195.3 888.8,196.0 890.0,196.8 891.0,197.4 M900.8,203.2 901.0,203.4 902.2,204.1 903.5,204.7 904.7,205.4 906.0,206.0 907.3,206.6 908.6,207.2 909.8,207.7 911.1,208.2 911.8,208.4" stroke="#ff0000" stroke-width="2.4" fill="none" stroke-linejoin="round"/>
</g>
<ellipse cx="369.4" cy="115.4" rx="37.9" ry="7.8" fill="none" stroke="#000" stroke-width="1.7"/>
<ellipse cx="602.6" cy="89.5" rx="59.3" ry="9.3" fill="none" stroke="#000" stroke-width="1.7"/>
<ellipse cx="799.3" cy="83.3" rx="70.1" ry="9.6" fill="none" stroke="#000" stroke-width="1.7"/>
<path d="M137.5,5.2 V639.3 H916.4" stroke="#000" stroke-width="2.6" fill="none"/>
<path d="M124,21.4 H137.5 M124,98.6 H137.5 M124,175.9 H137.5 M124,253.1 H137.5 M124,330.4 H137.5 M124,407.6 H137.5 M124,484.8 H137.5 M124,562.1 H137.5" stroke="#000" stroke-width="1.7" fill="none"/>
<path d="M124.5,639.3 H137.5 M137.5,639.3 V651.7 M234.8,639.3 V651.7 M332.0,639.3 V651.7 M429.3,639.3 V651.7 M526.6,639.3 V651.7 M623.8,639.3 V651.7 M721.1,639.3 V651.7 M818.4,639.3 V651.7 M915.7,639.3 V651.7" stroke="#000" stroke-width="2.5" fill="none"/>
<text x="116.6" y="29.1" font-size="29" text-anchor="end" transform="translate(0,-1.18) scale(1,1.06)">0</text>
<text x="116.6" y="106.3" font-size="29" text-anchor="end" transform="translate(0,-5.81) scale(1,1.06)">-10</text>
<text x="116.6" y="183.6" font-size="29" text-anchor="end" transform="translate(0,-10.44) scale(1,1.06)">-20</text>
<text x="116.6" y="260.8" font-size="29" text-anchor="end" transform="translate(0,-15.08) scale(1,1.06)">-30</text>
<text x="116.6" y="338.1" font-size="29" text-anchor="end" transform="translate(0,-19.71) scale(1,1.06)">-40</text>
<text x="116.6" y="415.3" font-size="29" text-anchor="end" transform="translate(0,-24.35) scale(1,1.06)">-50</text>
<text x="116.6" y="492.5" font-size="29" text-anchor="end" transform="translate(0,-28.98) scale(1,1.06)">-60</text>
<text x="116.6" y="569.8" font-size="29" text-anchor="end" transform="translate(0,-33.62) scale(1,1.06)">-70</text>
<text x="116.6" y="647.0" font-size="29" text-anchor="end" transform="translate(0,-38.25) scale(1,1.06)">-80</text>
<text x="137.1" y="681.5" font-size="29" text-anchor="middle" transform="translate(0,-47.08) scale(1,1.07)">0</text>
<text x="234.1" y="681.5" font-size="29" text-anchor="middle" transform="translate(0,-47.08) scale(1,1.07)">2</text>
<text x="331.5" y="681.5" font-size="29" text-anchor="middle" transform="translate(0,-47.08) scale(1,1.07)">4</text>
<text x="429.4" y="681.5" font-size="29" text-anchor="middle" transform="translate(0,-47.08) scale(1,1.07)">6</text>
<text x="527.1" y="681.5" font-size="29" text-anchor="middle" transform="translate(0,-47.08) scale(1,1.07)">8</text>
<text x="623.9" y="681.5" font-size="29" text-anchor="middle" transform="translate(0,-47.08) scale(1,1.07)">10</text>
<text x="721.2" y="681.5" font-size="29" text-anchor="middle" transform="translate(0,-47.08) scale(1,1.07)">12</text>
<text x="818.2" y="681.5" font-size="29" text-anchor="middle" transform="translate(0,-47.08) scale(1,1.07)">14</text>
<text x="916.4" y="681.5" font-size="29" text-anchor="middle" transform="translate(0,-47.08) scale(1,1.07)">16</text>
<text x="526.4" y="732.1" font-size="29" text-anchor="middle">Freq (GHz)</text>
<text class="s" transform="translate(30.8,321) rotate(-90)" font-size="28" text-anchor="middle">|S<tspan font-size="16.5" dy="12.3">21</tspan><tspan dy="-12.3" dx="1">| (dB)</tspan></text>
<g transform="translate(398.1,69.0)"><path d="M16.2,1.8 C15.4,0.4 13.4,-0.1 11.9,0.9 C10.6,1.8 10.0,4.0 9.5,7.0 L7.3,21.5 C6.7,25 5.2,28 2.6,28 C1.5,28 0.6,27.4 0.5,26.6" fill="none" stroke="#000" stroke-width="2.3" stroke-linecap="round"/><path d="M5.8,7.9 H14.8" stroke="#000" stroke-width="1.7"/></g><text x="412.4" y="91.0" font-size="13" font-style="italic" class="s" fill="#222">1</text>
<g transform="translate(632.2,42.2)"><path d="M16.2,1.8 C15.4,0.4 13.4,-0.1 11.9,0.9 C10.6,1.8 10.0,4.0 9.5,7.0 L7.3,21.5 C6.7,25 5.2,28 2.6,28 C1.5,28 0.6,27.4 0.5,26.6" fill="none" stroke="#000" stroke-width="2.3" stroke-linecap="round"/><path d="M5.8,8.3 H14.8" stroke="#000" stroke-width="1.7"/></g><text x="645.3" y="64.8" font-size="13" font-style="italic" class="s" fill="#222">2</text>
<g transform="translate(841.6,35.8)"><path d="M16.2,1.8 C15.4,0.4 13.4,-0.1 11.9,0.9 C10.6,1.8 10.0,4.0 9.5,7.0 L7.3,21.5 C6.7,25 5.2,28 2.6,28 C1.5,28 0.6,27.4 0.5,26.6" fill="none" stroke="#000" stroke-width="2.3" stroke-linecap="round"/><path d="M5.8,8.0 H14.8" stroke="#000" stroke-width="1.7"/></g><text x="854.7" y="57.8" font-size="13" font-style="italic" class="s" fill="#222">3</text>
<rect x="373.1" y="463.8" width="178.4" height="160.4" fill="#fff" stroke="#000" stroke-width="2"/>
<path d="M381.7,489.4 H449" stroke="#000" stroke-width="2.2" fill="none"/>
<text x="458.3" y="497.9" font-size="36" font-style="italic">&#945;</text>
<path d="M482.1,486.7 H497.4 M482.1,491.1 H497.4" stroke="#333" stroke-width="1.4"/>
<text x="505.6" y="498.8" font-size="29" transform="translate(0,-20.0) scale(1,1.04)">0.9</text>
<path d="M383.7,525.4 H448" stroke="#00ee00" stroke-width="3" stroke-dasharray="0.01 12.65" stroke-linecap="round" fill="none"/>
<text x="458.3" y="533.9" font-size="36" font-style="italic">&#945;</text>
<path d="M482.1,522.7 H497.4 M482.1,527.1 H497.4" stroke="#333" stroke-width="1.4"/>
<text x="505.6" y="534.8" font-size="29" transform="translate(0,-21.4) scale(1,1.04)">1.0</text>
<path d="M381.7,561.2 H449" stroke="#0000ff" stroke-width="2.4" stroke-dasharray="12.5 5 2.5 6.7" fill="none"/>
<text x="458.3" y="569.7" font-size="36" font-style="italic">&#945;</text>
<path d="M482.1,558.5 H497.4 M482.1,562.9 H497.4" stroke="#333" stroke-width="1.4"/>
<text x="505.6" y="570.6" font-size="29" transform="translate(0,-22.8) scale(1,1.04)">1.1</text>
<path d="M381.7,597.4 H449" stroke="#ff0000" stroke-width="2.4" stroke-dasharray="11.5 9.9" fill="none"/>
<text x="458.3" y="605.9" font-size="36" font-style="italic">&#945;</text>
<path d="M482.1,594.7 H497.4 M482.1,599.1 H497.4" stroke="#333" stroke-width="1.4"/>
<text x="505.6" y="606.8" font-size="29" transform="translate(0,-24.3) scale(1,1.04)">1.2</text>
</svg></body></html>
